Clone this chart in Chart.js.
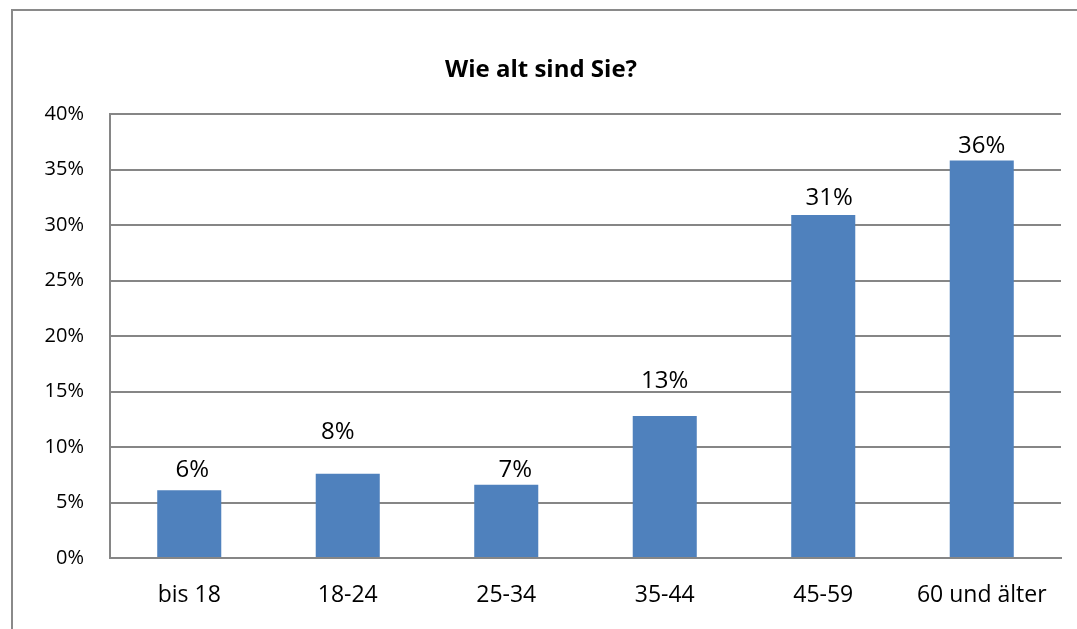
<!DOCTYPE html>
<html><head><meta charset="utf-8">
<script src="https://cdn.jsdelivr.net/npm/chart.js@4/dist/chart.umd.min.js"></script>
<style>html,body{margin:0;padding:0;background:#fff;} canvas{display:block;}</style>
</head><body>
<canvas id="c" width="1077" height="629"></canvas>
<script>
const categories = ['bis 18', '18-24', '25-34', '35-44', '45-59', '60 und älter'];
const values = [6.1, 7.6, 6.6, 12.8, 30.9, 35.8];
const valueLabels = ['6%', '8%', '7%', '13%', '31%', '36%'];
const yTickValues = [0, 5, 10, 15, 20, 25, 30, 35, 40];
const yTickLabels = ['0%', '5%', '10%', '15%', '20%', '25%', '30%', '35%', '40%'];
const chartTitle = 'Wie alt sind Sie?';

const FONT = "'Open Sans', 'Noto Sans', sans-serif";
const GRID = '#868686';

const framePlugin = {
  id: 'frame',
  beforeDraw(chart) {
    const ctx = chart.ctx;
    ctx.save();
    ctx.fillStyle = '#fff';
    ctx.fillRect(0, 0, chart.width, chart.height);
    ctx.strokeStyle = '#8a8a8a';
    ctx.lineWidth = 2;
    ctx.strokeRect(12, 10, 2000, 2000);
    ctx.font = 'bold 24px ' + FONT;
    ctx.fillStyle = '#000';
    ctx.textAlign = 'center';
    ctx.textBaseline = 'alphabetic';
    ctx.fillText(chartTitle, 541, 77);
    ctx.restore();
  }
};

const labelPlugin = {
  id: 'valueLabels',
  afterDatasetsDraw(chart, args, opts) {
    const ctx = chart.ctx;
    const meta = chart.getDatasetMeta(0);
    ctx.save();
    ctx.font = '24px ' + FONT;
    ctx.fillStyle = '#000';
    ctx.textAlign = 'center';
    ctx.textBaseline = 'alphabetic';
    meta.data.forEach((bar, i) => {
      ctx.fillText(valueLabels[i], bar.x + opts.shiftX[i], bar.y - opts.raise[i]);
    });
    ctx.restore();
  }
};

new Chart(document.getElementById('c'), {
  type: 'bar',
  data: {
    labels: categories,
    datasets: [{
      data: values,
      backgroundColor: '#4F81BD',
      borderWidth: 0,
      barPercentage: 0.404,
      categoryPercentage: 1.0
    }]
  },
  options: {
    responsive: false,
    animation: false,
    layout: { padding: { left: 0, right: 16, top: 114, bottom: 0 } },
    plugins: {
      legend: { display: false },
      tooltip: { enabled: false },
      title: { display: false },
      valueLabels: {
        shiftX: [3, -10, 9, 0, 6, 0],
        raise: [13, 35, 8, 28, 10, 8]
      }
    },
    scales: {
      x: {
        grid: { display: false, drawTicks: false },
        border: { display: true, color: GRID, width: 2 },
        ticks: { color: '#000', font: { family: FONT, size: 23 }, padding: 24, maxRotation: 0 },
        afterFit(s) { s.height = 71; }
      },
      y: {
        min: 0, max: 40,
        afterBuildTicks(s) { s.ticks = yTickValues.map(v => ({ value: v })); },
        grid: { color: GRID, lineWidth: 2, drawTicks: false },
        border: { display: true, color: GRID, width: 2 },
        ticks: {
          color: '#000',
          font: { family: FONT, size: 20 },
          padding: 26,
          callback: (v) => yTickLabels[yTickValues.indexOf(v)]
        },
        afterFit(s) { s.width = 110; }
      }
    }
  },
  plugins: [framePlugin, labelPlugin]
});
</script>
</body></html>
